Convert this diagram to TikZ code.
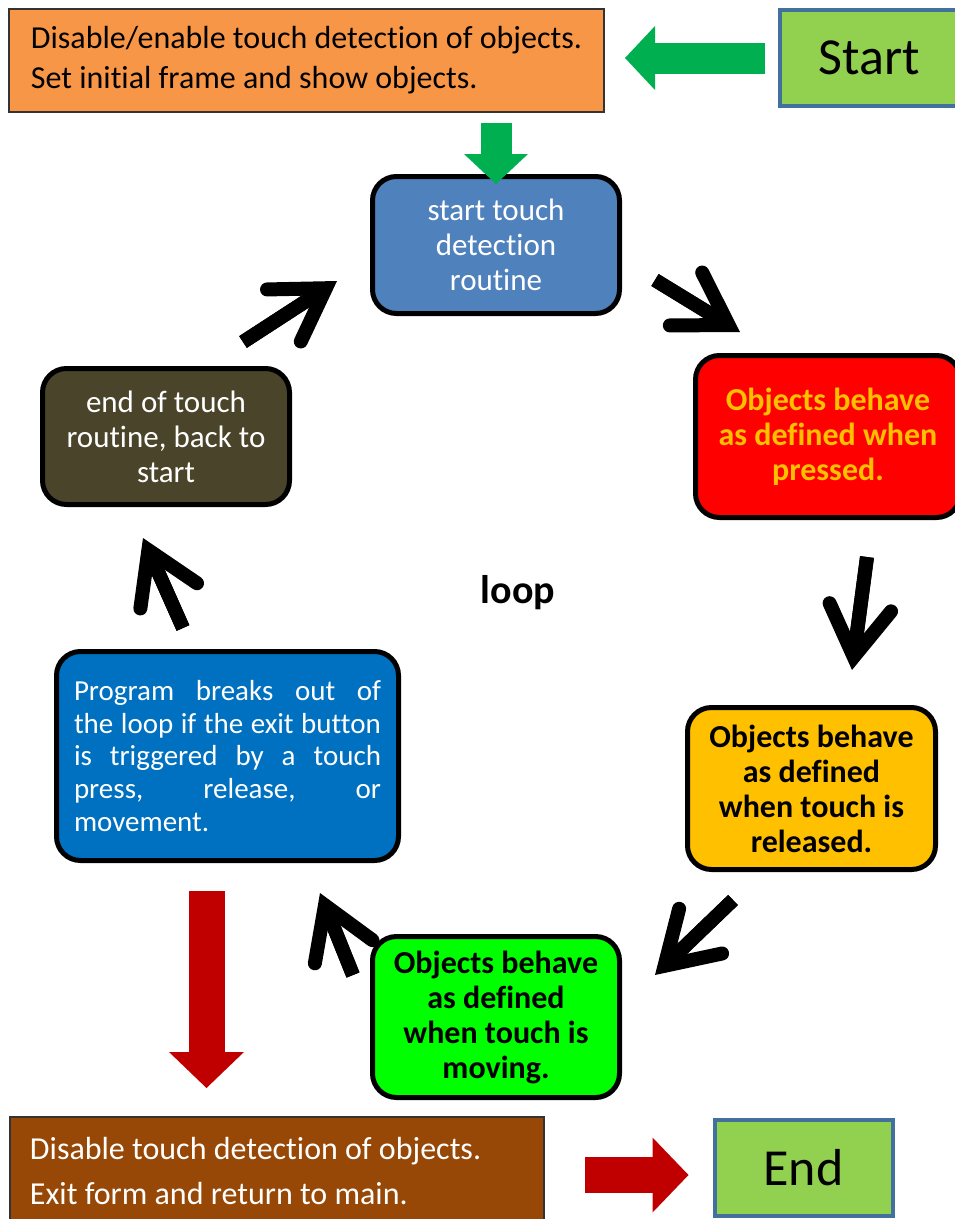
\documentclass[tikz,border=0pt]{standalone}
\usepackage{fontspec}
\setmainfont{Carlito}[Ligatures=NoCommon]
\usepackage{xcolor}
\definecolor{xorange}{HTML}{F79646}
\definecolor{xlime}{HTML}{92D050}
\definecolor{xsteel}{HTML}{41719C}
\definecolor{xgreen}{HTML}{00B050}
\definecolor{xblue}{HTML}{4F81BD}
\definecolor{xred}{HTML}{FF0000}
\definecolor{xgold}{HTML}{FFC000}
\definecolor{xolive}{HTML}{4A452A}
\definecolor{xocean}{HTML}{0070C0}
\definecolor{xneon}{HTML}{00FF00}
\definecolor{xdarkred}{HTML}{C00000}
\definecolor{xbrown}{HTML}{974806}
\usetikzlibrary{arrows.meta}
\tikzset{
  %% Styles %%
  framebox/.style = {draw=black!80, line width=2pt, fill=#1, inner sep=0pt},
  tagbox/.style = {draw=xsteel, line width=4pt, fill=xlime, inner sep=0pt,
    minimum width=178pt, minimum height=96pt, font=\fontsize{52}{60}\selectfont},
  stepbox/.style = {draw=black, line width=5pt, rounded corners=24pt, fill=#1,
    align=center, inner sep=0pt, font=\fontsize{31}{35}\selectfont},
  boldbox/.style = {stepbox=#1, font=\fontsize{32}{35}\bfseries\selectfont},
  %% Arrows %%
  greenarrow/.style = {draw=xgreen, line width=31pt,
    -{Triangle[length=30pt, width=64pt, line width=0pt]}},
  redarrow/.style = {draw=xdarkred, line width=36pt,
    -{Triangle[length=36pt, width=75pt, line width=0pt]}},
  looparrow/.style = {line width=14pt,
    -{Straight Barb[length=50pt, width=62pt, line cap=round, line join=miter]}},
  loopshaft/.style = {line width=14pt, shorten >=18pt},
}

\begin{document}
\begin{tikzpicture}[x=1pt, y=-1pt]
  \useasboundingbox (0,0) rectangle (955,1219);

  % Top row
  \node[framebox=xorange, align=left, minimum width=595pt, minimum height=103pt,
    font=\fontsize{32}{40}\selectfont] (init) at (306.5,60.5)
    {Disable/enable touch detection of objects.\\Set initial frame and show objects.};
  \node[tagbox] (start) at (869,58) {Start};

  % Loop
  \node[stepbox=xblue, text=white, minimum width=247pt, minimum height=137pt]
    (routine) at (496,245) {start touch\\detection\\routine};
  \node[boldbox=xred, text=xgold, minimum width=265pt, minimum height=162pt]
    (pressed) at (828,436.5) {Objects behave\\as defined when\\pressed.};
  \node[boldbox=xgold, minimum width=248pt, minimum height=162pt]
    (released) at (811.5,788.5) {Objects behave\\as defined\\when touch is\\released.};
  \node[boldbox=xneon, minimum width=247pt, minimum height=161pt]
    (moving) at (496,1017) {Objects behave\\as defined\\when touch is\\moving.};
  \node[stepbox=xocean, text=white, text width=307pt, align=justify,
    minimum width=342pt, minimum height=209pt, font=\fontsize{29}{32.7}\selectfont]
    (breakout) at (227.5,756) {Program breaks out of\linebreak the loop if the exit button\linebreak
    is triggered by a touch\linebreak press, release, or\linebreak movement.};
  \node[stepbox=xolive, text=white, minimum width=247pt, minimum height=136pt]
    (back) at (166,436.5) {end of touch\\routine, back to\\start};
  \node[font=\fontsize{40}{48}\bfseries\selectfont] (loop) at (518,593) {loop};

  % Bottom row
  \node[framebox=xbrown, text=white, text width=494pt, align=flush left,
    minimum width=534pt, minimum height=108pt, font=\fontsize{32}{45}\selectfont]
    (exitform) at (277,1171) {Disable touch detection of objects.\\Exit form and return to main.};
  \node[tagbox] (stop) at (803.5,1168) {End};

  % Block arrows
  \draw[greenarrow, shorten <=13pt, shorten >=20pt] (start.west) -- (init.east |- start.west);
  \draw[greenarrow, shorten <=10pt, shorten >=-10pt] (routine.north |- init.south) -- (routine.north);
  \draw[redarrow, shorten <=28pt, shorten >=28pt]
    ([xshift=-21pt]breakout.south) -- ([xshift=-21pt]breakout.south |- exitform.north);
  \draw[redarrow, shorten <=40pt, shorten >=24pt]
    ([yshift=-4pt]exitform.east) -- ([yshift=-4pt]exitform.east -| stop.west);

  % Loop arrows
  \coordinate (t1) at (243,342); \coordinate (h1) at (337,281);
  \coordinate (t2) at (655,280); \coordinate (h2) at (740,332);
  \coordinate (t3) at (867,557); \coordinate (h3) at (852,670);
  \coordinate (t4) at (733,900); \coordinate (h4) at (655,975);
  \coordinate (t5) at (353,975); \coordinate (h5) at (320,893);
  \coordinate (t6) at (183,628); \coordinate (h6) at (143,538);
  \foreach \i in {1,...,6}{
    \draw[looparrow] (t\i) -- (h\i);
    \draw[loopshaft] (t\i) -- (h\i);
  }
\end{tikzpicture}
\end{document}
